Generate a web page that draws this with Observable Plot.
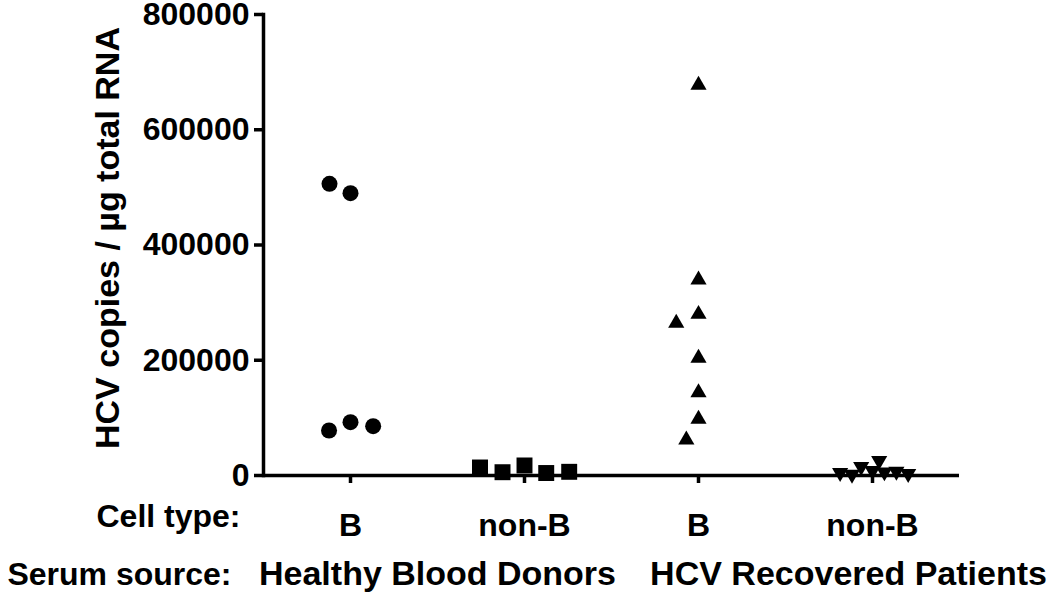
<!DOCTYPE html>
<html>
<head>
<meta charset="utf-8">
<script src="https://cdn.jsdelivr.net/npm/d3@7"></script>
<script src="https://cdn.jsdelivr.net/npm/@observablehq/plot@0.6"></script>
<style>
  html, body { margin: 0; padding: 0; background: #fff; }
</style>
</head>
<body>
<div id="chart"></div>
<script>
// ---- data ----
const serumSources = ["Healthy Blood Donors", "HCV Recovered Patients"];
const cellTypes = ["B", "non-B"];
const hbdB = [489900, 506200, 92500, 78100, 85600];
const hbdNonB = [17400, 5700, 4300, 6400, 13900];
const hcvB = [677300, 339400, 279900, 264300, 203600, 144000, 97700, 61800];
const hcvNonB = [8500, 15400, 6000, 2000, 25800, 7000, 5000, 3000];
const yTicks = [0, 200000, 400000, 600000, 800000];
const yLabel = "HCV copies / \u00b5g total RNA";
const rowLabels = ["Cell type:", "Serum source:"];

// ---- build tables ----
const groups = [];
serumSources.forEach(s => cellTypes.forEach(c => groups.push({key: s + " | " + c, serum: s, cell: c})));
const series = [hbdB, hbdNonB, hcvB, hcvNonB];
const rows = groups.flatMap((g, i) => series[i].map(v => ({group: g.key, value: v})));
const cellOf = new Map(groups.map(g => [g.key, g.cell]));

const downTriangle = {
  draw(context, size) {
    const y = -Math.sqrt(size / (Math.sqrt(3) * 3));
    const s = Math.sqrt(3);
    context.moveTo(0, -y * 2);
    context.lineTo(-s * y, y);
    context.lineTo(s * y, y);
    context.closePath();
  }
};
const symbols = ["circle", "square", "triangle", downTriangle];
const radii = [8, 9, 6, 6];
const pads = [7, 5, 12, 0];

const font = {fontSize: 32, fontWeight: "bold"};
const serumFont = {fontSize: 34, fontWeight: "bold"};
const labelFont = {fontSize: 34, fontWeight: "bold"};

const dotMarks = groups.map((g, i) =>
  Plot.dot(rows.filter(d => d.group === g.key),
    Plot.dodgeX({anchor: "middle", padding: pads[i]},
      {y: "value", fx: "group", r: radii[i], symbol: symbols[i], fill: "#000", stroke: "none"}))
);

const chart = Plot.plot({
  width: 1050,
  height: 608,
  marginTop: 14,
  marginBottom: 133,
  marginLeft: 262,
  marginRight: 90,
  style: {fontFamily: "'Liberation Sans', Arial, Helvetica, sans-serif", color: "#000", background: "#fff"},
  fx: {domain: groups.map(g => g.key), padding: 0, axis: null},
  y: {domain: [0, 800000], axis: null},
  marks: [
    Plot.axisY({ticks: yTicks, tickFormat: d3.format("d"), tickSize: 9, tickPadding: 5,
      strokeWidth: 3.5, label: null, ...font}),
    Plot.axisFx({anchor: "bottom", tickSize: 8, tickPadding: 30, strokeWidth: 3.5, label: null,
      tickFormat: k => cellOf.get(k), ...font}),
    Plot.frame({anchor: "left", facetAnchor: "left", strokeWidth: 3.5}),
    Plot.ruleY([0], {strokeWidth: 3.5}),
    ...dotMarks,
    Plot.text([{fx: groups[0].key, text: yLabel}],
      {fx: "fx", text: "text", frameAnchor: "left", textAnchor: "middle", rotate: -90, dx: -155, dy: -7, ...labelFont}),
    Plot.text([{fx: groups[0].key, text: rowLabels[0]}],
      {fx: "fx", text: "text", frameAnchor: "bottom-left", textAnchor: "end", dx: -23, dy: 51, ...font}),
    Plot.text([{fx: groups[0].key, text: rowLabels[1]}],
      {fx: "fx", text: "text", frameAnchor: "bottom-left", textAnchor: "end", dx: -32, dy: 109, ...font}),
    Plot.text([{fx: groups[1].key, text: serumSources[0]}],
      {fx: "fx", text: "text", frameAnchor: "bottom-left", textAnchor: "middle", dx: 0, dy: 109, ...serumFont}),
    Plot.text([{fx: groups[3].key, text: serumSources[1]}],
      {fx: "fx", text: "text", frameAnchor: "bottom-left", textAnchor: "middle", dx: 63, dy: 109, ...serumFont})
  ]
});
document.getElementById("chart").appendChild(chart);
</script>
</body>
</html>
